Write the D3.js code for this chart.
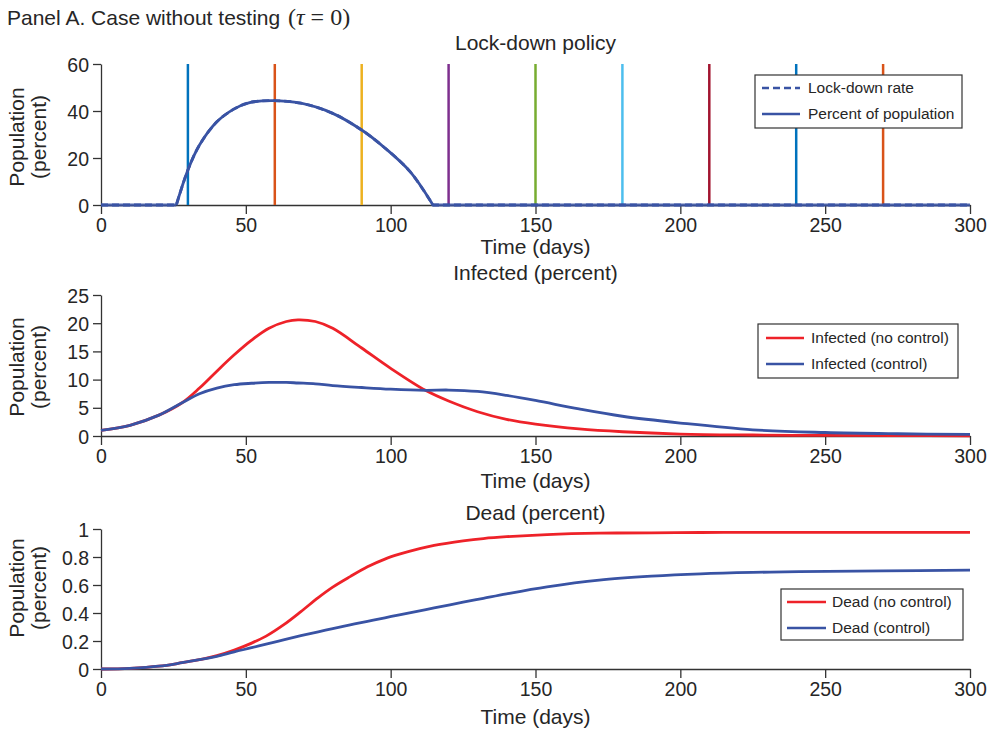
<!DOCTYPE html>
<html><head><meta charset="utf-8">
<script src="https://cdn.jsdelivr.net/npm/d3@7"></script>
<style>
html,body{margin:0;padding:0;background:#fff;}
svg{display:block;font-family:"Liberation Sans",Arial,Helvetica,sans-serif;}
</style></head>
<body><svg id="c" width="989" height="733"></svg>
<script>
// ---------- data ----------
const xTicks = [0, 50, 100, 150, 200, 250, 300];

const lockDays   = [0, 26, 30, 34, 40, 46, 51, 59, 69, 80, 90, 97.5, 106.7, 114.6, 120, 150, 200, 250, 300];
const lockValues = [0, 0, 14.9, 25.5, 35.4, 40.9, 43.5, 44.4, 43.3, 39.0, 31.9, 24.8, 14.2, 0, 0, 0, 0, 0, 0];
const lockTicks  = [0, 20, 40, 60];
const testDays   = [30, 60, 90, 120, 150, 180, 210, 240, 270];

const infDays      = [0, 10, 20, 28, 34, 40, 46, 52, 58, 64, 68, 74, 80, 90, 100, 112, 120, 130, 140, 150, 165, 180, 200, 225, 250, 275, 300];
const infNoControl = [1.0, 1.9, 3.7, 5.9, 8.5, 11.5, 14.4, 17.0, 19.1, 20.3, 20.6, 20.3, 19.1, 15.6, 12.0, 8.1, 6.2, 4.3, 2.95, 2.1, 1.25, 0.75, 0.35, 0.18, 0.1, 0.06, 0.04];
const infControl   = [1.0, 1.9, 3.7, 5.9, 7.5, 8.5, 9.1, 9.35, 9.5, 9.5, 9.4, 9.25, 8.95, 8.6, 8.3, 8.1, 8.15, 7.9, 7.2, 6.3, 4.8, 3.5, 2.3, 1.1, 0.62, 0.4, 0.28];
const infTicks     = [0, 5, 10, 15, 20, 25];

const deadDays      = [0, 10, 20, 28, 35, 40, 46, 52, 57, 63, 69, 75, 80, 86, 92, 98, 103, 110, 115, 125, 132, 140, 154, 172, 190, 207, 225, 241, 270, 300];
const deadNoControl = [0, 0.005, 0.02, 0.045, 0.07, 0.095, 0.135, 0.185, 0.235, 0.315, 0.41, 0.51, 0.585, 0.66, 0.73, 0.785, 0.82, 0.86, 0.883, 0.915, 0.932, 0.945, 0.96, 0.97, 0.973, 0.975, 0.976, 0.976, 0.976, 0.976];
const deadControl   = [0, 0.005, 0.02, 0.045, 0.07, 0.09, 0.123, 0.152, 0.178, 0.208, 0.238, 0.266, 0.289, 0.315, 0.341, 0.366, 0.387, 0.416, 0.436, 0.477, 0.505, 0.537, 0.587, 0.635, 0.663, 0.68, 0.69, 0.695, 0.701, 0.706];
const deadTicks     = [0, 0.2, 0.4, 0.6, 0.8, 1];

// ---------- styles ----------
const BLUE = "#3953a4", RED = "#ee2229", INK = "#262626";
const testColors = ["#0072bd", "#d95319", "#edb120", "#7e2f8e", "#77ac30", "#4dbeee", "#a2142f", "#0072bd", "#d95319"];
const SERIF = "'Liberation Serif','DejaVu Serif',serif";

const svg = d3.select("#c");
const X0 = 101, X1 = 970;

svg.append("text").attr("x", 7).attr("y", 25).attr("font-size", 21).attr("fill", INK)
  .call(t => {
    t.append("tspan").text("Panel A. Case without testing ");
    t.append("tspan").attr("font-family", SERIF).attr("font-size", 24).attr("dx", 2).text("(");
    t.append("tspan").attr("font-family", SERIF).attr("font-size", 24).attr("font-style", "italic").text("τ");
    t.append("tspan").attr("font-family", SERIF).attr("font-size", 24).attr("dx", 6).text("=");
    t.append("tspan").attr("font-family", SERIF).attr("font-size", 24).attr("dx", 6).text("0)");
  });

const smooth = (x, y) => d3.line().x(d => x(d[0])).y(d => y(d[1])).curve(d3.curveCatmullRom.alpha(0.5));
const straight = (x, y) => d3.line().x(d => x(d[0])).y(d => y(d[1]));

function panel(cfg) {
  const x = d3.scaleLinear().domain([0, 300]).range([X0, X1]);
  const y = d3.scaleLinear().domain(cfg.yDomain).range([cfg.bottom, cfg.top]);
  const g = svg.append("g");

  const xa = g.append("g").attr("transform", `translate(0,${cfg.bottom})`)
    .call(d3.axisBottom(x).tickValues(xTicks).tickSize(9).tickSizeOuter(0).tickFormat(d3.format("d")));
  const ya = g.append("g").attr("transform", `translate(${X0},0)`)
    .call(d3.axisLeft(y).tickValues(cfg.yTicks).tickSize(8).tickSizeOuter(0).tickFormat(cfg.fmt));
  [xa, ya].forEach(a => {
    a.selectAll("path,line").attr("stroke", "#333").attr("stroke-width", 1.3);
    a.selectAll("text").attr("fill", INK).attr("font-size", 19.5).attr("font-family", "'Liberation Sans',Arial,sans-serif");
  });
  xa.selectAll("text").attr("dy", null).attr("y", 27);
  ya.selectAll("text").attr("x", -12).attr("dy", "0.36em");

  g.append("text").attr("x", (X0 + X1) / 2).attr("y", cfg.titleY).attr("text-anchor", "middle")
    .attr("font-size", 21).attr("fill", INK).text(cfg.title);
  g.append("text").attr("x", (X0 + X1) / 2).attr("y", cfg.timeY).attr("text-anchor", "middle")
    .attr("font-size", 21).attr("fill", INK).text("Time (days)");
  g.append("text").attr("transform", `translate(24,${cfg.labelY}) rotate(-90)`).attr("text-anchor", "middle")
    .attr("font-size", 21).attr("fill", INK).text("Population");
  g.append("text").attr("transform", `translate(46,${cfg.labelY}) rotate(-90)`).attr("text-anchor", "middle")
    .attr("font-size", 21).attr("fill", INK).text("(percent)");

  cfg.draw(g, x, y);

  // legend
  const L = cfg.legend;
  const lg = g.append("g");
  lg.append("rect").attr("x", L.x).attr("y", L.y).attr("width", L.w).attr("height", L.h)
    .attr("fill", "#fff").attr("stroke", "#333").attr("stroke-width", 1.2);
  L.items.forEach((it, i) => {
    const yy = L.y + L.first + i * L.step;
    lg.append("line").attr("x1", L.x + L.lx0).attr("x2", L.x + L.lx1).attr("y1", yy).attr("y2", yy)
      .attr("stroke", it.color).attr("stroke-width", 2.6).attr("stroke-dasharray", it.dash || null);
    lg.append("text").attr("x", L.x + L.tx).attr("y", yy).attr("dy", "0.35em")
      .attr("font-size", 15.5).attr("fill", INK).text(it.label);
  });
}

panel({
  top: 64, bottom: 205, yDomain: [0, 60], yTicks: lockTicks, fmt: d3.format("d"),
  title: "Lock-down policy", titleY: 50, timeY: 254, labelY: 137,
  legend: { x: 755, y: 75, w: 207, h: 53, first: 13, step: 26, lx0: 7, lx1: 45, tx: 53,
    items: [{ label: "Lock-down rate", color: BLUE, dash: "7,4" }, { label: "Percent of population", color: BLUE }] },
  draw: (g, x, y) => {
    const pts = lockDays.map((d, i) => [d, lockValues[i]]);
    const nz = pts.map((p, i) => p[1] > 0 ? i : -1).filter(i => i >= 0);
    const a = nz[0] - 1, b = nz[nz.length - 1] + 1;
    const hump = pts.slice(a, b + 1);
    const before = pts.slice(0, a + 1), after = pts.slice(b);
    const fullD = straight(x, y)(before) + smooth(x, y)(hump).replace(/^M/, "L") + straight(x, y)(after).replace(/^M/, "L");
    g.selectAll(".tl").data(testDays).join("line")
      .attr("x1", d => x(d)).attr("x2", d => x(d)).attr("y1", y(60)).attr("y2", y(0))
      .attr("stroke", (d, i) => testColors[i]).attr("stroke-width", 2.5);
    g.append("path").attr("d", fullD).attr("fill", "none")
      .attr("stroke", BLUE).attr("stroke-width", 2.8).attr("stroke-dasharray", "7,4");
    [before, after].forEach(seg => g.append("path").attr("d", straight(x, y)(seg)).attr("fill", "none")
      .attr("stroke", BLUE).attr("stroke-width", 2.8).attr("stroke-opacity", 0.85));
    g.append("path").attr("d", smooth(x, y)(hump)).attr("fill", "none")
      .attr("stroke", BLUE).attr("stroke-width", 2.8).attr("stroke-linejoin", "round");
  }
});

panel({
  top: 295, bottom: 436, yDomain: [0, 25], yTicks: infTicks, fmt: d3.format("d"),
  title: "Infected (percent)", titleY: 280, timeY: 488, labelY: 367,
  legend: { x: 758, y: 324, w: 200, h: 54, first: 14, step: 26, lx0: 8, lx1: 46, tx: 53,
    items: [{ label: "Infected (no control)", color: RED }, { label: "Infected (control)", color: BLUE }] },
  draw: (g, x, y) => {
    g.append("path").attr("d", smooth(x, y)(infDays.map((d, i) => [d, infNoControl[i]])))
      .attr("fill", "none").attr("stroke", RED).attr("stroke-width", 2.8);
    g.append("path").attr("d", smooth(x, y)(infDays.map((d, i) => [d, infControl[i]])))
      .attr("fill", "none").attr("stroke", BLUE).attr("stroke-width", 2.8);
  }
});

panel({
  top: 529, bottom: 669, yDomain: [0, 1], yTicks: deadTicks, fmt: d => d3.format("~g")(d),
  title: "Dead (percent)", titleY: 520, timeY: 724, labelY: 588,
  legend: { x: 781, y: 589, w: 182, h: 51, first: 13, step: 26, lx0: 6, lx1: 45, tx: 51,
    items: [{ label: "Dead (no control)", color: RED }, { label: "Dead (control)", color: BLUE }] },
  draw: (g, x, y) => {
    g.append("path").attr("d", smooth(x, y)(deadDays.map((d, i) => [d, deadNoControl[i]])))
      .attr("fill", "none").attr("stroke", RED).attr("stroke-width", 2.8);
    g.append("path").attr("d", smooth(x, y)(deadDays.map((d, i) => [d, deadControl[i]])))
      .attr("fill", "none").attr("stroke", BLUE).attr("stroke-width", 2.8);
  }
});
</script></body></html>
